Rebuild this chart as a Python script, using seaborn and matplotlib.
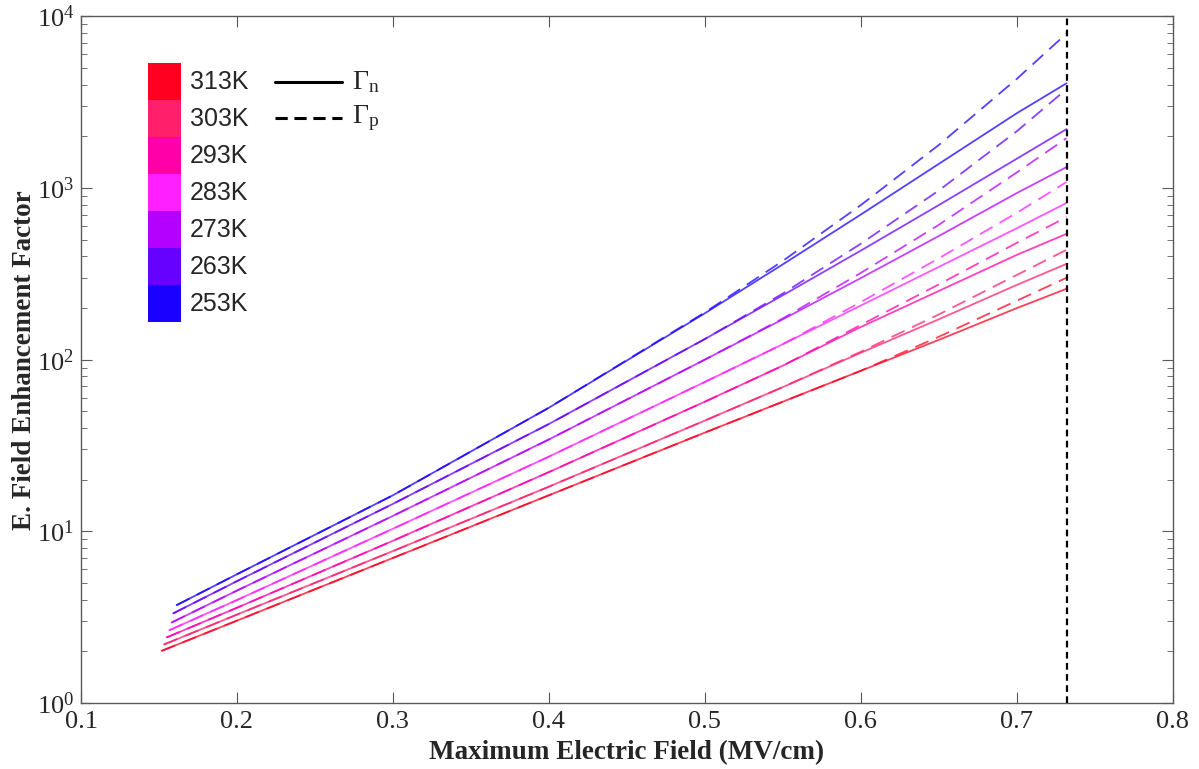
import numpy as np
import pandas as pd
import matplotlib
matplotlib.use("Agg")
import matplotlib.pyplot as plt
from matplotlib.lines import Line2D
from matplotlib.colors import ListedColormap
import seaborn as sns

# --- data (values stored as log10 of the factor) ---
TEMPS = ["313K", "303K", "293K", "283K", "273K", "263K", "253K"]
COLORS = ["#FF0020", "#FF1F6B", "#FF00A8", "#FF1FFF", "#B300FF", "#6600FF", "#1A00FF"]

# first point of every curve
E_START = [0.1517, 0.1532, 0.1549, 0.1566, 0.1581, 0.1591, 0.1613]
LOG_START = [0.304, 0.341, 0.382, 0.424, 0.469, 0.522, 0.570]

FIELD = [0.2, 0.3, 0.4, 0.5, 0.55, 0.6, 0.65, 0.7, 0.732]

# Gamma_n (solid)
LOG_GN = {
    "313K": [0.48, 0.845, 1.21, 1.575, 1.755, 1.935, 2.115, 2.30, 2.413],
    "303K": [0.515, 0.885, 1.26, 1.645, 1.84, 2.04, 2.235, 2.435, 2.558],
    "293K": [0.555, 0.945, 1.345, 1.755, 1.965, 2.19, 2.40, 2.61, 2.733],
    "283K": [0.60, 1.015, 1.435, 1.87, 2.09, 2.315, 2.54, 2.765, 2.913],
    "273K": [0.655, 1.09, 1.535, 2.0, 2.235, 2.475, 2.72, 2.97, 3.122],
    "263K": [0.71, 1.16, 1.625, 2.12, 2.375, 2.635, 2.90, 3.17, 3.343],
    "253K": [0.75, 1.21, 1.72, 2.27, 2.555, 2.845, 3.14, 3.435, 3.61],
}

# Gamma_p (dashed)
LOG_GP = {
    "313K": [0.48, 0.845, 1.21, 1.575, 1.755, 1.935, 2.133, 2.343, 2.477],
    "303K": [0.515, 0.885, 1.26, 1.645, 1.84, 2.046, 2.263, 2.493, 2.64],
    "293K": [0.555, 0.945, 1.345, 1.755, 1.965, 2.202, 2.438, 2.68, 2.83],
    "283K": [0.60, 1.015, 1.435, 1.87, 2.09, 2.335, 2.59, 2.855, 3.035],
    "273K": [0.655, 1.09, 1.535, 2.0, 2.24, 2.505, 2.785, 3.09, 3.29],
    "263K": [0.71, 1.16, 1.625, 2.12, 2.385, 2.675, 2.985, 3.33, 3.576],
    "253K": [0.75, 1.21, 1.72, 2.275, 2.575, 2.90, 3.25, 3.635, 3.90],
}

E_LIMIT = 0.732

# --- long table for seaborn ---
rows = []
for i, t in enumerate(TEMPS):
    for kind, table in (("n", LOG_GN), ("p", LOG_GP)):
        rows.append((E_START[i], 10 ** LOG_START[i], t, kind))
        for e, v in zip(FIELD, table[t]):
            rows.append((e, 10 ** v, t, kind))
df = pd.DataFrame(rows, columns=["field", "factor", "temp", "kind"])

# --- styling ---
sns.set_style("ticks")
plt.rcParams["font.family"] = ["Liberation Serif", "DejaVu Serif"]
plt.rcParams["mathtext.fontset"] = "custom"
plt.rcParams["mathtext.rm"] = "Liberation Serif"
plt.rcParams["mathtext.it"] = "Liberation Serif:italic"

fig = plt.figure(figsize=(11.99, 7.69), dpi=100)
ax = fig.add_axes([0.0676, 0.0858, 0.9104, 0.893])

palette = dict(zip(TEMPS, COLORS))
sns.lineplot(data=df, x="field", y="factor", hue="temp", style="kind",
             palette=palette, dashes={"n": "", "p": (8, 4.5)},
             sort=False, estimator=None, linewidth=1.3, alpha=0.75,
             legend=False, ax=ax)

ax.axvline(E_LIMIT, color="black", linestyle=(0, (3, 2)), linewidth=1.6)

ax.set_yscale("log")
ax.set_xlim(0.1, 0.8)
ax.set_ylim(1, 1e4)
ax.set_xticks(np.arange(0.1, 0.81, 0.1))
ax.set_xticklabels(["0.1", "0.2", "0.3", "0.4", "0.5", "0.6", "0.7", "0.8"])

for s in ax.spines.values():
    s.set_color("#5a5a5a")
    s.set_linewidth(1.0)
ax.tick_params(which="both", direction="in", top=True, right=True,
               color="#5a5a5a", labelsize=19)
ax.tick_params(axis="x", pad=6)
ax.tick_params(axis="y", pad=5)
ax.tick_params(which="major", length=8)
ax.tick_params(which="minor", length=4)
ax.tick_params(axis="x", which="minor", bottom=False, top=False)

ax.set_xlabel("Maximum Electric Field (MV/cm)", fontsize=19.5, fontweight="bold", labelpad=5)
ax.set_ylabel("E. Field Enhancement Factor", fontsize=19.5, fontweight="bold", labelpad=0)

# --- temperature colour strip legend ---
cax = fig.add_axes([0.1234, 0.5813, 0.0267, 0.3368])
cax.imshow(np.arange(len(TEMPS)).reshape(-1, 1), cmap=ListedColormap(COLORS),
           aspect="auto", interpolation="nearest")
cax.set_axis_off()
row_h = 0.3368 / len(TEMPS)
for i, t in enumerate(TEMPS):
    yc = 0.918 - row_h * (i + 0.5)
    fig.text(0.1585, yc, t, fontsize=18, va="center", ha="left",
             family=["Liberation Sans", "DejaVu Sans"])

# --- line style legend ---
for y, ls, lab in ((0.893, "-", r"$\Gamma_{\mathrm{n}}$"),
                   (0.846, (0, (4, 2.2)), r"$\Gamma_{\mathrm{p}}$")):
    fig.add_artist(Line2D([0.2294, 0.2852], [y, y], transform=fig.transFigure,
                          color="black", linewidth=2.2, linestyle=ls))
    fig.text(0.2935, y, lab, fontsize=20, va="center", ha="left")

fig.savefig("out.png", dpi=100)
